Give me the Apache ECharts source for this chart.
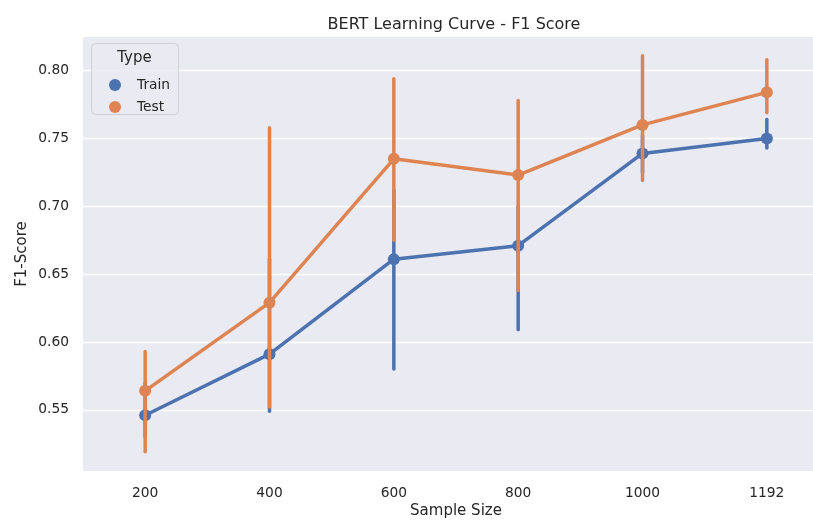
<!DOCTYPE html>
<html>
<head>
<meta charset="utf-8">
<script src="https://cdn.jsdelivr.net/npm/echarts@6/dist/echarts.min.js"></script>
<style>
  html, body { margin: 0; padding: 0; background: #ffffff; }
  #chart { width: 813px; height: 521px; }
</style>
</head>
<body>
<div id="chart"></div>
<script>
// Sample sizes on the x axis
const sampleSizes = ['200', '400', '600', '800', '1000', '1192'];

// Train F1: point estimate and confidence interval
const trainMean = [0.546, 0.591, 0.661, 0.671, 0.739, 0.750];
const trainLow  = [0.530, 0.549, 0.580, 0.609, 0.725, 0.743];
const trainHigh = [0.570, 0.661, 0.712, 0.700, 0.752, 0.764];

// Test F1: point estimate and confidence interval
const testMean = [0.564, 0.629, 0.735, 0.723, 0.760, 0.784];
const testLow  = [0.519, 0.552, 0.675, 0.638, 0.719, 0.769];
const testHigh = [0.593, 0.758, 0.794, 0.778, 0.811, 0.808];

// Y tick labels
const yTicks = [0.55, 0.60, 0.65, 0.70, 0.75, 0.80];

const BLUE = '#4c72b0';
const ORANGE = '#dd8452';
const TEXT = '#262626';
const FONT = 'DejaVu Sans';

function errorBars(name, low, high, color, z) {
  return {
    type: 'custom',
    name: name,
    z: z,
    silent: true,
    itemStyle: { color: color },
    data: sampleSizes.map((s, i) => [i, low[i], high[i]]),
    renderItem: function (params, api) {
      const p1 = api.coord([api.value(0), api.value(1)]);
      const p2 = api.coord([api.value(0), api.value(2)]);
      return {
        type: 'line',
        shape: { x1: p1[0], y1: p1[1], x2: p2[0], y2: p2[1] },
        style: { stroke: color, lineWidth: 3.5, lineCap: 'round' }
      };
    }
  };
}

function pointLine(name, values, color, z) {
  return {
    type: 'line',
    name: name,
    z: z,
    data: values,
    symbol: 'circle',
    symbolSize: 12,
    showSymbol: true,
    lineStyle: { color: color, width: 3.5 },
    itemStyle: { color: color },
    emphasis: { disabled: true },
    animation: false
  };
}

const chart = echarts.init(document.getElementById('chart'));
chart.setOption({
  animation: false,
  backgroundColor: '#ffffff',
  textStyle: { fontFamily: FONT, color: TEXT },
  title: {
    text: 'BERT Learning Curve - F1 Score',
    left: 449,
    top: 12,
    textAlign: 'center',
    textStyle: { fontFamily: FONT, fontSize: 16, fontWeight: 'normal', color: TEXT }
  },
  grid: {
    left: 83, top: 37, width: 746, height: 434,
    outerBoundsMode: 'none',
    containLabel: false,
    backgroundColor: '#eaeaf2', show: true, borderWidth: 0
  },
  xAxis: {
    type: 'category',
    data: sampleSizes,
    boundaryGap: true,
    name: 'Sample Size',
    nameLocation: 'middle',
    nameGap: 33,
    nameMoveOverlap: false,
    nameTextStyle: { fontFamily: FONT, fontSize: 15, color: TEXT },
    axisLine: { show: false },
    axisTick: { show: false },
    axisLabel: { fontFamily: FONT, fontSize: 13.8, color: TEXT, margin: 15 },
    splitLine: { show: false }
  },
  yAxis: {
    type: 'value',
    min: 0.5049,
    max: 0.8248,
    name: 'F1-Score',
    nameLocation: 'middle',
    nameGap: 53,
    nameRotate: 90,
    nameMoveOverlap: false,
    nameTextStyle: { fontFamily: FONT, fontSize: 15, color: TEXT },
    axisLine: { show: false },
    axisTick: { show: false, customValues: yTicks },
    axisLabel: {
      customValues: yTicks,
      fontFamily: FONT, fontSize: 13.8, color: TEXT, margin: 14,
      formatter: v => v.toFixed(2)
    },
    splitLine: { show: true, lineStyle: { color: '#ffffff', width: 1.3 } }
  },
  legend: {
    orient: 'vertical',
    left: 104,
    top: 73,
    z: 8,
    icon: 'circle',
    itemWidth: 12,
    itemHeight: 12,
    itemGap: 8,
    data: ['Train', 'Test'],
    selectedMode: false,
    textStyle: { fontFamily: FONT, fontSize: 13.8, color: TEXT, padding: [0, 0, 0, 11] }
  },
  graphic: [
    {
      type: 'rect',
      left: 91, top: 43,
      z: 6,
      shape: { width: 87, height: 71, r: 4 },
      style: { fill: 'rgba(234,234,242,0.8)', stroke: '#cfcfd4', lineWidth: 1 }
    },
    {
      type: 'text',
      x: 134.5, y: 58,
      z: 8,
      style: { text: 'Type', fontFamily: FONT, fontSize: 15, fill: TEXT, align: 'center', verticalAlign: 'middle' }
    }
  ],
  series: [
    errorBars('Train', trainLow, trainHigh, BLUE, 2),
    pointLine('Train', trainMean, BLUE, 3),
    errorBars('Test', testLow, testHigh, ORANGE, 4),
    pointLine('Test', testMean, ORANGE, 5)
  ]
});
</script>
</body>
</html>
